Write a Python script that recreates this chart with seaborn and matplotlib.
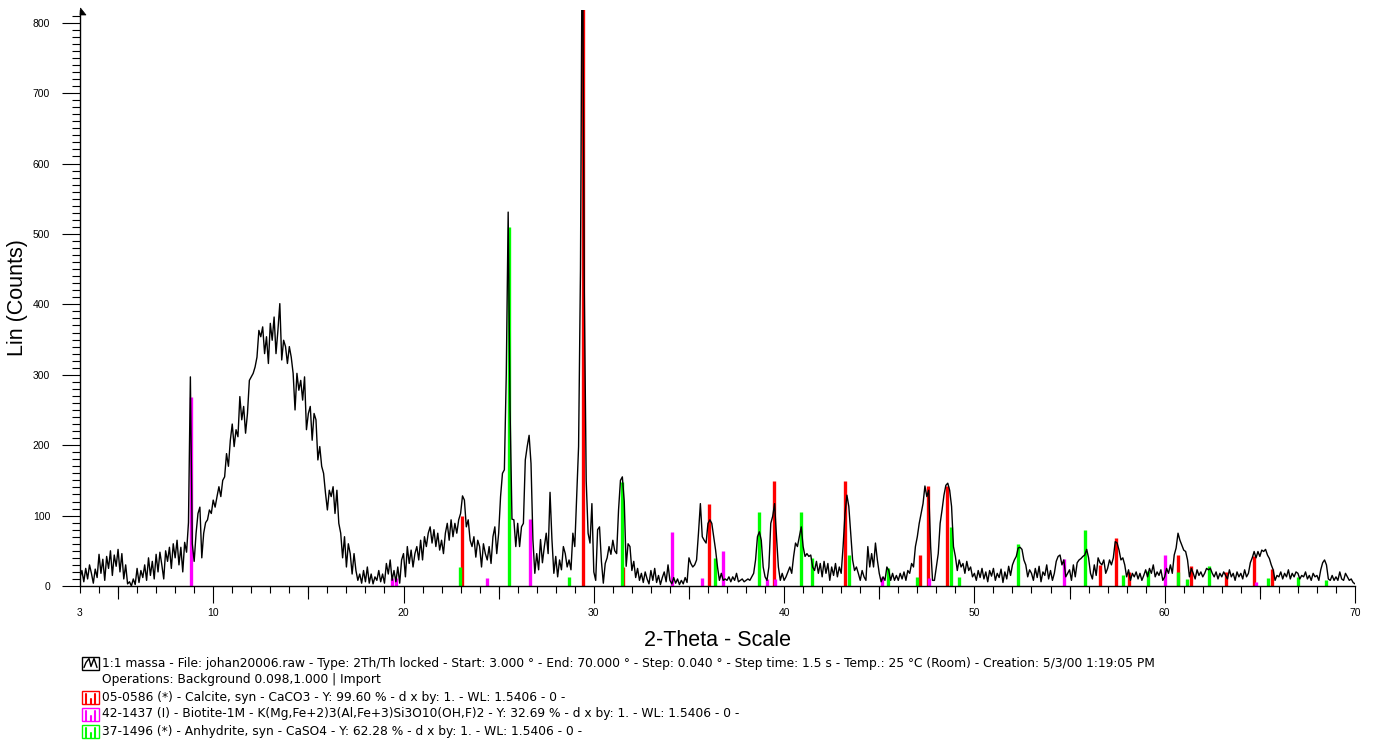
import numpy as np
import matplotlib
matplotlib.use('Agg')
import matplotlib.pyplot as plt
import seaborn as sns
from matplotlib.patches import Rectangle, Polygon
from matplotlib.lines import Line2D
from matplotlib.ticker import MultipleLocator

# measured scan, counts read every 0.1 deg 2-theta (one row per degree, 3..69)
scan_start = 3.0
scan_step = 0.1
counts_rows = [
    [12, 22, 6, 25, 10, 30, 18, 4, 24, 12],
    [45, 18, 38, 8, 42, 25, 50, 15, 44, 28],
    [52, 20, 46, 10, 30, 3, 6, 0, 10, 2],
    [25, 5, 22, 12, 30, 8, 40, 15, 35, 10],
    [45, 20, 48, 30, 10, 50, 35, 55, 25, 60],
    [40, 65, 30, 55, 20, 62, 48, 90, 297, 60],
    [35, 75, 103, 112, 40, 75, 90, 94, 108, 103],
    [122, 112, 127, 141, 127, 150, 155, 188, 170, 207],
    [230, 198, 222, 212, 269, 236, 255, 217, 245, 292],
    [297, 302, 311, 325, 363, 354, 368, 330, 354, 316],
    [373, 349, 382, 330, 363, 401, 321, 349, 340, 316],
    [340, 325, 302, 250, 302, 278, 292, 264, 297, 222],
    [245, 255, 207, 245, 236, 179, 198, 170, 160, 132],
    [108, 136, 127, 141, 103, 136, 89, 75, 40, 70],
    [27, 60, 46, 17, 46, 22, 8, 17, 4, 22],
    [6, 27, 4, 17, 3, 13, 8, 22, 6, 17],
    [4, 32, 17, 37, 8, 22, 6, 27, 4, 37],
    [46, 13, 56, 32, 51, 27, 46, 56, 37, 65],
    [37, 70, 56, 75, 84, 61, 80, 56, 75, 51],
    [65, 46, 75, 89, 65, 94, 70, 89, 75, 94],
    [103, 128, 122, 84, 94, 65, 56, 70, 41, 65],
    [56, 27, 60, 46, 37, 56, 32, 70, 84, 46],
    [75, 127, 160, 165, 300, 531, 250, 95, 94, 56],
    [89, 56, 84, 89, 179, 198, 214, 174, 66, 18],
    [46, 23, 66, 33, 56, 75, 46, 133, 66, 18],
    [42, 13, 37, 23, 56, 46, 27, 37, 23, 75],
    [56, 127, 198, 450, 1000, 420, 150, 75, 61, 117],
    [20, 8, 80, 84, 35, 4, 32, 40, 56, 45],
    [65, 50, 46, 108, 150, 155, 120, 28, 60, 56],
    [22, 35, 12, 25, 8, 18, 5, 20, 10, 3],
    [22, 8, 25, 5, 15, 2, 12, 20, 6, 30],
    [8, 3, 12, 4, 10, 2, 8, 3, 12, 5],
    [40, 32, 27, 30, 37, 75, 117, 70, 65, 61],
    [89, 94, 89, 70, 51, 27, 8, 18, 8, 10],
    [8, 13, 6, 13, 8, 18, 6, 8, 10, 6],
    [8, 10, 8, 13, 18, 37, 70, 77, 65, 27],
    [13, 8, 27, 89, 99, 117, 70, 27, 8, 18],
    [8, 13, 20, 27, 18, 42, 61, 56, 70, 84],
    [56, 42, 46, 42, 44, 27, 22, 35, 18, 32],
    [13, 35, 18, 32, 8, 27, 15, 32, 13, 27],
    [18, 56, 103, 129, 113, 75, 37, 22, 27, 18],
    [8, 22, 13, 8, 56, 27, 46, 27, 61, 37],
    [18, 6, 13, 8, 27, 22, 8, 18, 8, 15],
    [8, 18, 10, 20, 8, 22, 18, 32, 27, 56],
    [70, 89, 103, 117, 142, 127, 136, 56, 8, 8],
    [27, 46, 89, 108, 129, 143, 146, 136, 113, 56],
    [42, 22, 37, 27, 32, 18, 35, 22, 27, 13],
    [18, 8, 22, 12, 25, 10, 20, 6, 22, 14],
    [25, 8, 18, 12, 24, 5, 20, 10, 28, 15],
    [30, 37, 42, 54, 55, 52, 37, 30, 13, 23],
    [18, 8, 25, 12, 28, 6, 20, 15, 30, 10],
    [22, 8, 18, 35, 42, 44, 30, 37, 13, 18],
    [23, 8, 30, 13, 33, 37, 39, 42, 44, 52],
    [40, 18, 10, 30, 15, 40, 33, 30, 37, 18],
    [25, 37, 30, 40, 63, 61, 51, 37, 40, 30],
    [13, 23, 8, 18, 13, 20, 10, 18, 8, 15],
    [23, 13, 25, 18, 30, 13, 20, 15, 23, 8],
    [13, 25, 18, 30, 18, 44, 54, 75, 65, 58],
    [51, 49, 37, 13, 25, 18, 10, 23, 15, 20],
    [13, 18, 25, 23, 25, 18, 13, 20, 10, 18],
    [13, 20, 15, 10, 23, 13, 18, 8, 20, 13],
    [18, 10, 23, 13, 18, 33, 40, 49, 40, 49],
    [42, 51, 49, 52, 44, 39, 30, 23, 8, 15],
    [13, 20, 10, 18, 13, 23, 10, 18, 13, 20],
    [18, 10, 15, 13, 20, 10, 15, 8, 18, 13],
    [15, 8, 23, 33, 37, 30, 10, 8, 15, 8],
    [13, 8, 20, 10, 8, 18, 13, 8, 10, 5],
]
counts_end = [3]

# reference patterns (stick positions / heights in counts)
calcite_tth = [23.05, 29.43, 31.55, 36.05, 39.45, 43.2, 47.15, 47.55, 48.55,
               56.6, 57.45, 58.1, 60.7, 61.4, 63.2, 64.7, 65.65]
calcite_int = [100, 1000, 27, 117, 149, 149, 44, 142, 142,
               30, 68, 20, 44, 28, 20, 42, 24]
biotite_tth = [8.83, 19.42, 19.58, 24.37, 26.65, 34.09, 35.7, 36.8, 39.1,
               39.5, 45.13, 47.6, 54.7, 60.0, 64.8]
biotite_int = [268, 12, 12, 11, 95, 77, 11, 50, 10, 10, 13, 12, 38, 44, 5]
anhydrite_tth = [22.97, 25.52, 28.7, 31.46, 36.37, 38.68, 40.9, 41.45, 43.42,
                 45.48, 46.96, 48.77, 49.19, 52.3, 55.8, 57.82, 59.14, 60.72,
                 61.15, 62.33, 65.44, 67.02, 68.5]
anhydrite_int = [27, 510, 13, 148, 40, 105, 105, 40, 44, 25, 13, 84, 13,
                 60, 79, 15, 22, 20, 10, 28, 12, 13, 8]

x_ticks = [3, 10, 20, 30, 40, 50, 60, 70]

legend_lines = [
    ('black', '1:1 massa - File: johan20006.raw - Type: 2Th/Th locked - Start: 3.000 \u00b0 - End: 70.000 \u00b0 - Step: 0.040 \u00b0 - Step time: 1.5 s - Temp.: 25 \u00b0C (Room) - Creation: 5/3/00 1:19:05 PM'),
    (None, 'Operations: Background 0.098,1.000 | Import'),
    ('#ff0000', '05-0586 (*) - Calcite, syn - CaCO3 - Y: 99.60 % - d x by: 1. - WL: 1.5406 - 0 -'),
    ('#ff00ff', '42-1437 (I) - Biotite-1M - K(Mg,Fe+2)3(Al,Fe+3)Si3O10(OH,F)2 - Y: 32.69 % - d x by: 1. - WL: 1.5406 - 0 -'),
    ('#00ff00', '37-1496 (*) - Anhydrite, syn - CaSO4 - Y: 62.28 % - d x by: 1. - WL: 1.5406 - 0 -'),
]

counts = [c for row in counts_rows for c in row] + counts_end
tth = np.round(scan_start + scan_step * np.arange(len(counts)), 2)

sns.set_style('ticks')
plt.rcParams['font.family'] = ['Liberation Sans', 'DejaVu Sans']

W, H = 1373, 740
fig = plt.figure(figsize=(W / 100, H / 100), dpi=100)
ax_l, ax_r, ax_b, ax_t = 80, 1355, 586, 10
ax = fig.add_axes([ax_l / W, (H - ax_b) / H, (ax_r - ax_l) / W, (ax_b - ax_t) / H])

ax.vlines(calcite_tth, 0, calcite_int, colors='#ff0000', lw=2.4, zorder=2)
ax.vlines(biotite_tth, 0, biotite_int, colors='#ff00ff', lw=2.4, zorder=2)
ax.vlines(anhydrite_tth, 0, anhydrite_int, colors='#00ff00', lw=2.4, zorder=2)
sns.lineplot(x=tth, y=counts, color='black', lw=1.0, estimator=None, ax=ax, zorder=3)

ax.set_xlim(3, 70)
ax.set_ylim(0, 818)
sns.despine(ax=ax)
for s in ['left', 'bottom']:
    ax.spines[s].set_linewidth(1.0)
    ax.spines[s].set_color('black')

ax.set_xticks(x_ticks)
ax.set_xticklabels([str(t) for t in x_ticks])
ax.xaxis.set_minor_locator(MultipleLocator(1))
ax.yaxis.set_major_locator(MultipleLocator(100))
ax.yaxis.set_minor_locator(MultipleLocator(10))
ax.tick_params(axis='x', which='major', length=12, width=0.8, pad=4, labelsize=7.5, colors='black')
ax.tick_params(axis='x', which='minor', length=5, width=0.8, colors='black')
ax.tick_params(axis='y', which='major', length=13, width=0.8, pad=8.5, labelsize=7.5, colors='black')
ax.tick_params(axis='y', which='minor', length=6, width=0.8, colors='black')
ax.xaxis.get_major_ticks()[0].tick1line.set_markersize(5)

# medium ticks every 5 deg
sec = ax.secondary_xaxis('bottom')
sec.set_xticks([5, 15, 25, 35, 45, 55, 65])
sec.tick_params(length=9, width=0.8, labelbottom=False, colors='black')
sec.spines['bottom'].set_visible(False)

ax.set_ylabel('Lin (Counts)', fontsize=15.5, va='center', color='black')
ax.yaxis.set_label_coords((18 - ax_l) / (ax_r - ax_l), (ax_b - 298) / (ax_b - ax_t))
ax.set_xlabel('2-Theta - Scale', fontsize=15.5, va='center', color='black')
ax.xaxis.set_label_coords((718 - ax_l) / (ax_r - ax_l), (ax_b - 640) / (ax_b - ax_t))

# small arrow head on top of the y axis
fig.patches.append(Polygon([[80.5 / W, 1 - 8 / H], [80 / W, 1 - 15 / H], [86 / W, 1 - 15 / H]],
                           closed=True, fc='black', ec='black', lw=0.5,
                           transform=fig.transFigure))

# legend block under the chart
def px(x, y):
    return x / W, 1 - y / H

line_y = [663, 680, 697, 714, 731]
for (col, txt), yc in zip(legend_lines, line_y):
    fig.text(*px(102, yc), txt, fontsize=8.8, family='DejaVu Sans', va='center', ha='left', color='black')
    if col is None:
        continue
    x0, x1 = 82, 99
    y0, y1 = yc + 6.5, yc - 6.5
    fig.patches.append(Rectangle(px(x0, y0), (x1 - x0) / W, (y0 - y1) / H, fill=False,
                                 ec=col, lw=1.0, transform=fig.transFigure))
    if col == 'black':
        zx = [x0 + 2, x0 + 4, x0 + 7, x0 + 9, x0 + 12, x0 + 15]
        zy = [y0 - 2, y1 + 6, y1 + 2, y0 - 3, y1 + 2, y0 - 2]
        fig.lines.append(Line2D([v / W for v in zx], [1 - v / H for v in zy], color='black',
                                lw=1.0, transform=fig.transFigure))
    else:
        for sx, top in [(x0 + 4, y1 + 3), (x0 + 8.5, y1 + 8), (x0 + 13, y1 + 3)]:
            fig.lines.append(Line2D([sx / W, sx / W], [1 - y0 / H, 1 - top / H], color=col,
                                    lw=1.5, transform=fig.transFigure))

fig.savefig('out.png', dpi=100)
